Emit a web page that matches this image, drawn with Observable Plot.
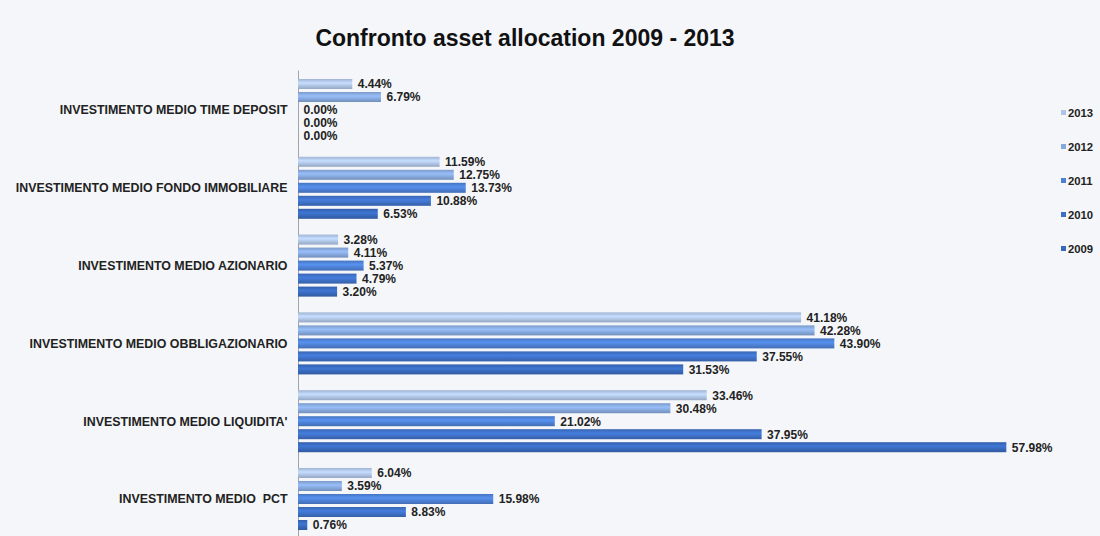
<!DOCTYPE html>
<html><head><meta charset="utf-8">
<script src="https://cdn.jsdelivr.net/npm/d3@7"></script>
<script src="https://cdn.jsdelivr.net/npm/@observablehq/plot@0.6"></script>
<style>
body{margin:0;background:#f4f6f9;font-family:"Liberation Sans",Arial,sans-serif;width:1100px;height:536px;overflow:hidden;position:relative}
#title{height:62px;box-sizing:border-box;padding-top:26px;text-align:center;padding-right:50px;font-weight:bold;font-size:23px;line-height:24px;color:#111}
#legend{position:absolute;left:1061px;top:106px}
.item{height:34px;display:flex;align-items:flex-start;font-weight:bold;font-size:11.3px;line-height:14px;color:#222}
.sw{width:5px;height:5px;margin:4px 2px 0 0}
svg text{white-space:pre}
</style></head>
<body>
<div id="title">Confronto asset allocation 2009 - 2013</div>
<svg width="0" height="0" style="position:absolute"><defs id="defs"></defs></svg>
<div id="chart"></div>
<div id="legend"></div>
<script>
const categories = [
  "INVESTIMENTO MEDIO TIME DEPOSIT",
  "INVESTIMENTO MEDIO FONDO IMMOBILIARE",
  "INVESTIMENTO MEDIO AZIONARIO",
  "INVESTIMENTO MEDIO OBBLIGAZIONARIO",
  "INVESTIMENTO MEDIO LIQUIDITA'",
  "INVESTIMENTO MEDIO  PCT"
];
const years = [2013, 2012, 2011, 2010, 2009];
const v2013 = [4.44, 11.59, 3.28, 41.18, 33.46, 6.04];
const v2012 = [6.79, 12.75, 4.11, 42.28, 30.48, 3.59];
const v2011 = [0.00, 13.73, 5.37, 43.90, 21.02, 15.98];
const v2010 = [0.00, 10.88, 4.79, 37.55, 37.95, 8.83];
const v2009 = [0.00, 6.53, 3.20, 31.53, 57.98, 0.76];
const series = {2013: v2013, 2012: v2012, 2011: v2011, 2010: v2010, 2009: v2009};

const yearColors = {2013: "#afc4e6", 2012: "#86a8dc", 2011: "#4d80d3", 2010: "#3e6fc4", 2009: "#3868bb"};

const data = [];
for (const y of years) categories.forEach((c, i) => data.push({cat: c, year: y, value: series[y][i]}));

// gradients
const defs = d3.select("#defs");
for (const y of years) {
  const c = d3.color(yearColors[y]);
  const g = defs.append("linearGradient").attr("id", "g" + y).attr("x1", 0).attr("x2", 0).attr("y1", 0).attr("y2", 1);
  g.append("stop").attr("offset", "0%").attr("stop-color", c.darker(0.25).formatHex());
  g.append("stop").attr("offset", "40%").attr("stop-color", c.brighter(0.35).formatHex());
  g.append("stop").attr("offset", "100%").attr("stop-color", c.darker(0.45).formatHex());
}

const fmt = d3.format(".2f");
const marks = [
  Plot.ruleX([0], {stroke: "#a0a4ab", insetTop: -7, insetBottom: -7})
];
for (const y of years) {
  const d = data.filter(e => e.year === y);
  marks.push(Plot.barX(d, {x: "value", y: "year", fy: "cat", fill: `url(#g${y})`}));
}
marks.push(Plot.text(data, {x: "value", y: "year", fy: "cat", text: d => fmt(d.value) + "%", textAnchor: "start", dx: 5, fill: "#222", fontWeight: "bold", fontSize: 12}));

const chart = Plot.plot({
  width: 1100,
  height: 474,
  marginLeft: 298,
  marginRight: 69,
  marginTop: 15.5,
  marginBottom: 4.5,
  style: {background: "transparent", fontFamily: "'Liberation Sans', Arial, sans-serif", fontSize: "12.4px", fontWeight: "bold", color: "#222"},
  x: {domain: [0, 60], axis: null},
  y: {domain: years, paddingInner: 0.23, paddingOuter: 0.115, round: false, axis: null},
  fy: {domain: categories, paddingInner: 0.1645, paddingOuter: 0, round: false, axis: "left", tickSize: 0, tickPadding: 11, label: null},
  marks
});
document.getElementById("chart").appendChild(chart);

const leg = d3.select("#legend");
for (const y of years) {
  const it = leg.append("div").attr("class", "item");
  it.append("div").attr("class", "sw").style("background", yearColors[y]);
  it.append("span").text(y);
}
</script>
</body></html>
